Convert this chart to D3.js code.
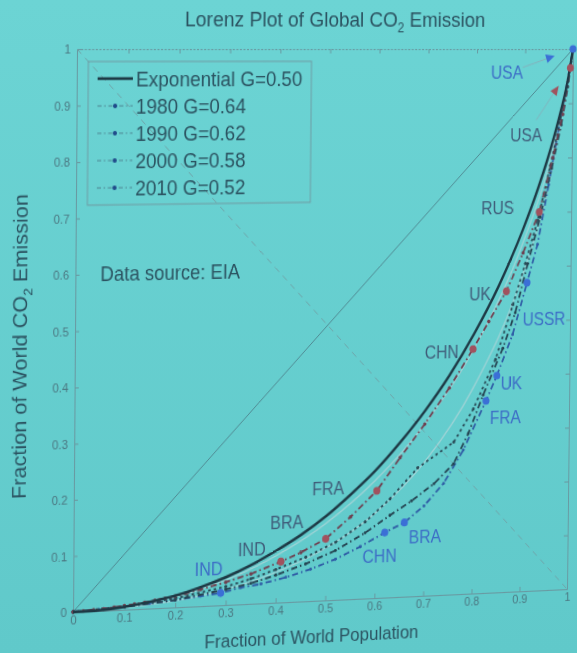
<!DOCTYPE html>
<html>
<head>
<meta charset="utf-8">
<script src="https://cdn.jsdelivr.net/npm/d3@7"></script>
<style>
  html, body { margin: 0; padding: 0; width: 577px; height: 653px; overflow: hidden;
    background: linear-gradient(#6cd4d4, #60c9ca); }
  #stage { position: absolute; left: 0; top: 0; width: 577px; height: 653px; transform-origin: 0 0; }
  svg { display: block; font-family: "Liberation Sans", Arial, sans-serif; }
</style>
</head>
<body>
<div id="stage"></div>
<script>
// ---------- data ----------
const xTicks = [0, 0.1, 0.2, 0.3, 0.4, 0.5, 0.6, 0.7, 0.8, 0.9, 1];
const yTicks = [0, 0.1, 0.2, 0.3, 0.4, 0.5, 0.6, 0.7, 0.8, 0.9, 1];

// exponential reference distribution, G = 0.50
const expPop   = [0, 0.05, 0.1, 0.15, 0.2, 0.25, 0.3, 0.35, 0.4, 0.45, 0.5, 0.55, 0.6, 0.65, 0.7, 0.75, 0.8, 0.85, 0.9, 0.93, 0.95, 0.97, 0.99, 1];
const expShare = [0, 0.001, 0.005, 0.012, 0.021, 0.034, 0.050, 0.070, 0.094, 0.121, 0.153, 0.191, 0.233, 0.283, 0.339, 0.403, 0.478, 0.565, 0.670, 0.744, 0.800, 0.865, 0.944, 1];

// yearly Lorenz curves (cumulative population share vs cumulative emission share)
const pop1980   = [0, 0.05, 0.1, 0.15, 0.2, 0.25, 0.29, 0.33, 0.37, 0.42, 0.47, 0.52, 0.57, 0.62, 0.66, 0.7, 0.74, 0.78, 0.826, 0.848, 0.88, 0.909, 0.93, 0.952, 1];
const share1980 = [0, 0.002, 0.005, 0.009, 0.013, 0.018, 0.022, 0.030, 0.035, 0.045, 0.058, 0.074, 0.095, 0.119, 0.136, 0.165, 0.205, 0.265, 0.354, 0.400, 0.475, 0.570, 0.640, 0.750, 1];

const pop1990   = [0, 0.1, 0.2, 0.3, 0.35, 0.4, 0.46, 0.52, 0.58, 0.63, 0.674, 0.72, 0.76, 0.79, 0.82, 0.86, 0.885, 0.91, 0.935, 0.958, 0.977, 0.99, 1];
const share1990 = [0, 0.005, 0.013, 0.028, 0.037, 0.050, 0.068, 0.090, 0.120, 0.150, 0.175, 0.205, 0.240, 0.295, 0.365, 0.450, 0.515, 0.605, 0.690, 0.780, 0.860, 0.930, 1];

const pop2000   = [0, 0.1, 0.2, 0.3, 0.35, 0.4, 0.46, 0.52, 0.58, 0.63, 0.686, 0.76, 0.8, 0.845, 0.88, 0.905, 0.93, 0.955, 0.975, 0.99, 1];
const share2000 = [0, 0.006, 0.016, 0.033, 0.045, 0.060, 0.080, 0.105, 0.140, 0.180, 0.235, 0.280, 0.340, 0.430, 0.530, 0.605, 0.685, 0.785, 0.870, 0.940, 1];

const pop2010   = [0, 0.02, 0.04, 0.06, 0.08, 0.1, 0.12, 0.14, 0.16, 0.18, 0.2, 0.22, 0.25, 0.3, 0.35, 0.41, 0.45, 0.5, 0.55, 0.603, 0.65, 0.7, 0.75, 0.798, 0.83, 0.866, 0.9, 0.933, 0.96, 0.98, 0.995, 1];
const share2010 = [0, 0.001, 0.002, 0.003, 0.005, 0.007, 0.009, 0.011, 0.014, 0.017, 0.020, 0.024, 0.030, 0.041, 0.054, 0.074, 0.089, 0.112, 0.150, 0.196, 0.255, 0.315, 0.380, 0.450, 0.500, 0.555, 0.625, 0.700, 0.800, 0.880, 0.965, 1];

const years = ["1980", "1990", "2000", "2010"];
const ginis = [0.64, 0.62, 0.58, 0.52];
const expGini = 0.50;

// named countries on the 1980 and 2010 curves
const countries1980 = ["IND", "CHN", "BRA", "FRA", "UK", "USSR", "USA"];
const cPop1980      = [0.29, 0.62, 0.66, 0.826, 0.848, 0.909, 1];
const cShare1980    = [0.022, 0.119, 0.136, 0.354, 0.400, 0.570, 1];

const countries2010 = ["IND", "BRA", "FRA", "CHN", "UK", "RUS", "USA"];
const cPop2010      = [0.41, 0.5, 0.603, 0.798, 0.866, 0.933, 0.995];
const cShare2010    = [0.074, 0.112, 0.196, 0.450, 0.555, 0.700, 0.965];

// two light guide curves
const guidePopA   = [0, 0.2, 0.3, 0.4, 0.5, 0.6, 0.7, 0.8, 0.9, 0.95, 1];
const guideShareA = [0, 0.019, 0.045, 0.085, 0.140, 0.215, 0.315, 0.450, 0.645, 0.780, 1];
const guidePopB   = [0, 0.2, 0.3, 0.4, 0.5, 0.6, 0.7, 0.8, 0.9, 0.95, 1];
const guideShareB = [0, 0.012, 0.028, 0.055, 0.095, 0.155, 0.245, 0.380, 0.585, 0.740, 1];

// ---------- layout ----------
const W = 577, H = 653;
const plot = { left: 75, top: 60, size: 495 };
const x = d3.scaleLinear().domain([0, 1]).range([plot.left, plot.left + plot.size]);
const y = d3.scaleLinear().domain([0, 1]).range([plot.top + plot.size, plot.top]);

// label offsets (px) from each named point
const labelOffset1980 = [[-12, -22], [-5, 21], [21, 14], [20, 16], [15, 8], [18, 34], [-68, 22]];
const labelOffset2010 = [[-29, -12], [-39, -16], [-49, -3], [-32, 2], [-27, 2], [-43, -4], [-45, 61]];

const C = {
  text: "#2b5361", tick: "#4b7882", axis: "#689aa2", expLine: "#1d3945",
  blue: "#3b6fd6", red: "#a0525e", label2010: "#3f5c79", label1980: "#3c6dc6",
  guide: "#a2d3d6", diag: "#4f8a93", anti: "#6ea4a9"
};
const seriesStyle = {
  "1980": { stroke: "#2f5ea6", dash: "6,3,1.5,3", r: 1.4 },
  "1990": { stroke: "#244452", dash: "6,3,1.5,3", r: 1.4 },
  "2000": { stroke: "#294b57", dash: "2.5,3", r: 1.4 },
  "2010": { stroke: "#6e4050", dash: "6,3,1.5,3", r: 1.7 }
};

const svg = d3.select("#stage").append("svg").attr("width", W).attr("height", H);
const zip = (a, b) => a.map((v, i) => [v, b[i]]);
const line = d3.line().x(d => x(d[0])).y(d => y(d[1]));
const smooth = d3.line().x(d => x(d[0])).y(d => y(d[1])).curve(d3.curveMonotoneX);

// ---------- axes (boxed, ticks pointing inward) ----------
const fmt = d => (d === 0 || d === 1) ? String(d) : d3.format(".1f")(d);
function styleAxis(g) {
  g.select(".domain").attr("stroke", C.axis).attr("stroke-width", 1);
  g.selectAll(".tick line").attr("stroke", C.axis);
  g.selectAll(".tick text").attr("fill", C.tick).attr("font-size", 11)
    .attr("font-family", "'Liberation Sans', Arial, sans-serif");
}
svg.append("g").attr("transform", `translate(0,${y(0)})`)
  .call(d3.axisBottom(x).tickValues(xTicks).tickFormat(fmt).tickSizeInner(-4).tickSizeOuter(0).tickPadding(3))
  .call(styleAxis);
svg.append("g").attr("transform", `translate(${x(0)},0)`)
  .call(d3.axisLeft(y).tickValues(yTicks).tickFormat(fmt).tickSizeInner(-4).tickSizeOuter(0).tickPadding(6))
  .call(styleAxis);
svg.append("g").attr("transform", `translate(0,${y(1)})`)
  .call(d3.axisTop(x).tickValues(xTicks).tickFormat("").tickSizeInner(-4).tickSizeOuter(0))
  .call(styleAxis).select(".domain").attr("stroke-dasharray", "2,1.5");
svg.append("g").attr("transform", `translate(${x(1)},0)`)
  .call(d3.axisRight(y).tickValues(yTicks).tickFormat("").tickSizeInner(-4).tickSizeOuter(0))
  .call(styleAxis);

// ---------- reference lines ----------
svg.append("path").datum([[0, 0], [1, 1]]).attr("d", line)
  .attr("fill", "none").attr("stroke", C.diag).attr("stroke-width", 1);
svg.append("path").datum([[0, 1], [1, 0]]).attr("d", line)
  .attr("fill", "none").attr("stroke", C.anti).attr("stroke-width", 1).attr("stroke-dasharray", "6,5");
[zip(guidePopA, guideShareA), zip(guidePopB, guideShareB)].forEach(g =>
  svg.append("path").datum(g).attr("d", smooth)
    .attr("fill", "none").attr("stroke", C.guide).attr("stroke-width", 1.2));

// ---------- yearly curves ----------
const yearData = {
  "1980": zip(pop1980, share1980), "1990": zip(pop1990, share1990),
  "2000": zip(pop2000, share2000), "2010": zip(pop2010, share2010)
};
years.forEach(yr => {
  const st = seriesStyle[yr];
  svg.append("path").datum(yearData[yr]).attr("d", line)
    .attr("fill", "none").attr("stroke", st.stroke).attr("stroke-width", 1.8)
    .attr("stroke-dasharray", st.dash);
  svg.append("g").selectAll("circle").data(yearData[yr]).join("circle")
    .attr("cx", d => x(d[0])).attr("cy", d => y(d[1])).attr("r", st.r).attr("fill", st.stroke);
});

// exponential reference curve
svg.append("path").datum(zip(expPop, expShare)).attr("d", smooth)
  .attr("fill", "none").attr("stroke", C.expLine).attr("stroke-width", 2.4);

// ---------- named countries ----------
function drawCountries(names, pops, shares, offsets, dotColor, textColor) {
  const pts = names.map((n, i) => ({ n, px: x(pops[i]), py: y(shares[i]), o: offsets[i] }));
  const g = svg.append("g");
  g.selectAll("circle").data(pts).join("circle")
    .attr("cx", d => d.px).attr("cy", d => d.py).attr("r", 3.6).attr("fill", dotColor);
  g.selectAll("text").data(pts).join("text")
    .attr("x", d => d.px + d.o[0]).attr("y", d => d.py + d.o[1])
    .attr("text-anchor", "middle").attr("dominant-baseline", "central")
    .attr("font-size", 16).attr("fill", textColor).text(d => d.n);
  // arrow for the top-most country, whose label sits away from the crowded corner
  const last = pts[pts.length - 1];
  const lx = last.px + last.o[0], ly = last.py + last.o[1];
  const dx = last.px - lx, dy = last.py - ly, len = Math.hypot(dx, dy);
  const ux = dx / len, uy = dy / len;
  const sx = lx + ux * 17, sy = ly + uy * 17;
  const tx = last.px - ux * 20, ty = last.py - uy * 20;
  g.append("line").attr("x1", sx).attr("y1", sy).attr("x2", tx - ux * 6).attr("y2", ty - uy * 6)
    .attr("stroke", "#80b3bd").attr("stroke-width", 1);
  const hl = 9, hw = 4;
  g.append("polygon")
    .attr("points", [[tx, ty], [tx - ux * hl - uy * hw, ty - uy * hl + ux * hw], [tx - ux * hl + uy * hw, ty - uy * hl - ux * hw]].map(p => p.join(",")).join(" "))
    .attr("fill", dotColor);
}
drawCountries(countries1980, cPop1980, cShare1980, labelOffset1980, C.blue, C.label1980);
drawCountries(countries2010, cPop2010, cShare2010, labelOffset2010, C.red, C.label2010);

// ---------- legend ----------
const leg = svg.append("g");
leg.append("rect").attr("x", 86).attr("y", 71).attr("width", 218).attr("height", 126)
  .attr("fill", "none").attr("stroke", "#6e9ea5").attr("stroke-width", 1);
const legRows = [{ label: `Exponential G=${expGini.toFixed(2)}`, exp: true }]
  .concat(years.map((yr, i) => ({ label: `${yr} G=${ginis[i].toFixed(2)}`, yr })));
legRows.forEach((r, i) => {
  const ry = 86 + i * 24;
  if (r.exp) {
    leg.append("line").attr("x1", 95).attr("x2", 129).attr("y1", ry).attr("y2", ry)
      .attr("stroke", C.expLine).attr("stroke-width", 2.6);
  } else {
    leg.append("line").attr("x1", 95).attr("x2", 129).attr("y1", ry).attr("y2", ry)
      .attr("stroke", "#4f8a96").attr("stroke-width", 1.2).attr("stroke-dasharray", "4,2.5,1.5,2.5");
    leg.append("circle").attr("cx", 112).attr("cy", ry).attr("r", 2).attr("fill", "#1f4a8a");
  }
  leg.append("text").attr("x", 132).attr("y", ry).attr("dominant-baseline", "central")
    .attr("font-size", 18.5).attr("fill", C.text).text(r.label);
});

svg.append("text").attr("x", 99).attr("y", 258).attr("dominant-baseline", "central")
  .attr("font-size", 18).attr("fill", C.text).text("Data source: EIA");

// ---------- titles ----------
const title = svg.append("text").attr("x", 329).attr("y", 40).attr("text-anchor", "middle")
  .attr("font-size", 19).attr("fill", C.text);
title.append("tspan").text("Lorenz Plot of Global CO");
title.append("tspan").attr("font-size", 12).attr("dy", 5).text("2");
title.append("tspan").attr("dy", -5).text(" Emission");

svg.append("text").attr("x", 310).attr("y", 593).attr("text-anchor", "middle")
  .attr("font-size", 17).attr("fill", C.text).text("Fraction of World Population");

const ylab = svg.append("text").attr("transform", "translate(29,320) rotate(-90)")
  .attr("text-anchor", "middle").attr("font-size", 19).attr("fill", C.text);
ylab.append("tspan").text("Fraction of World CO");
ylab.append("tspan").attr("font-size", 12).attr("dy", 5).text("2");
ylab.append("tspan").attr("dy", -5).text(" Emission");

// ---------- slight projective tilt of the whole page ----------
function homography(src, dst) {
  const A = [], b = [];
  for (let i = 0; i < 4; i++) {
    const [sx, sy] = src[i], [dx, dy] = dst[i];
    A.push([sx, sy, 1, 0, 0, 0, -dx * sx, -dx * sy]); b.push(dx);
    A.push([0, 0, 0, sx, sy, 1, -dy * sx, -dy * sy]); b.push(dy);
  }
  const n = 8;
  for (let c = 0; c < n; c++) {
    let p = c;
    for (let r = c + 1; r < n; r++) if (Math.abs(A[r][c]) > Math.abs(A[p][c])) p = r;
    [A[c], A[p]] = [A[p], A[c]]; [b[c], b[p]] = [b[p], b[c]];
    for (let r = 0; r < n; r++) {
      if (r === c) continue;
      const f = A[r][c] / A[c][c];
      for (let k = c; k < n; k++) A[r][k] -= f * A[c][k];
      b[r] -= f * b[c];
    }
  }
  return b.map((v, i) => v / A[i][i]);
}
const L = x(0), R = x(1), T = y(1), B = y(0);
const h = homography(
  [[L, T], [R, T], [L, B], [R, B]],
  [[77, 49], [573, 49], [73, 612], [567, 589]]
);
d3.select("#stage").style("transform",
  `matrix3d(${h[0]},${h[3]},0,${h[6]},${h[1]},${h[4]},0,${h[7]},0,0,1,0,${h[2]},${h[5]},0,1)`);
</script>
</body>
</html>
